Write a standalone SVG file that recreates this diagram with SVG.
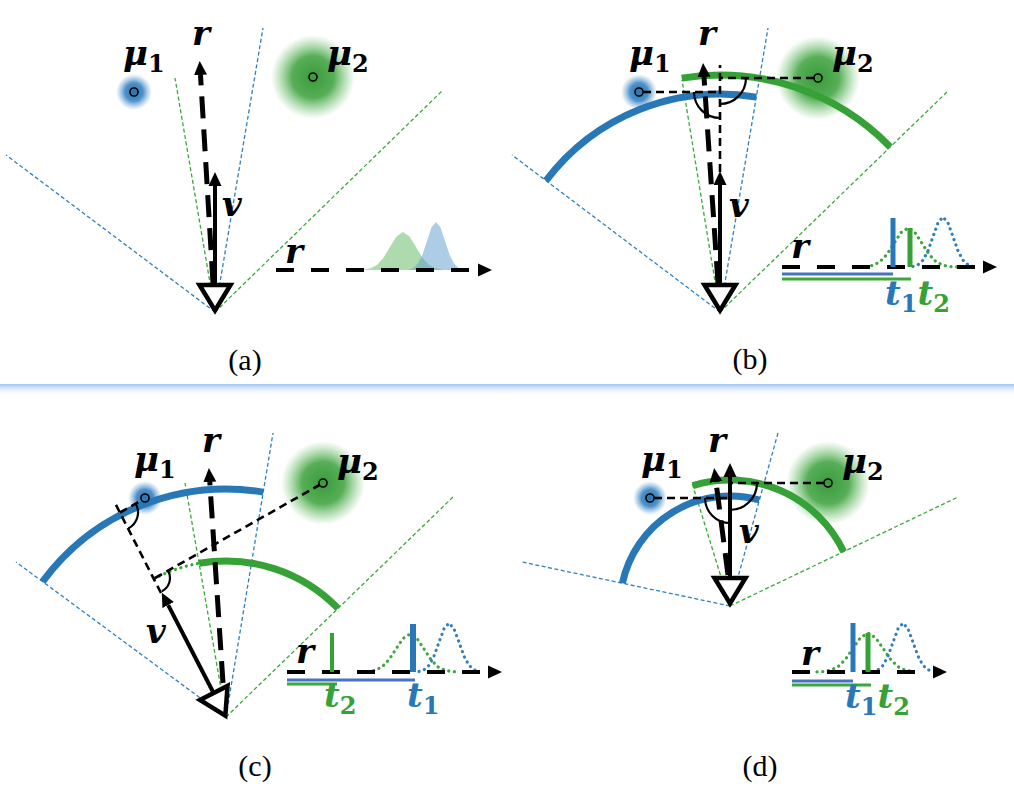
<svg xmlns="http://www.w3.org/2000/svg" width="1014" height="799" viewBox="0 0 1014 799">
<style>
.fb{fill:none;stroke:#2f7fc1;stroke-width:1.3;stroke-dasharray:4 2.5}
.fg{fill:none;stroke:#3aa83a;stroke-width:1.3;stroke-dasharray:4 2.5}
.ab{fill:none;stroke:#2878b8;stroke-width:7}
.ag{fill:none;stroke:#36a136;stroke-width:7}
.rr{fill:none;stroke:#000;stroke-width:5;stroke-dasharray:22 11}
.vv{fill:none;stroke:#000;stroke-width:4}
.pj{fill:none;stroke:#000;stroke-width:2.6;stroke-dasharray:8 5}
.ang{fill:none;stroke:#000;stroke-width:2.2}
.ax{fill:none;stroke:#000;stroke-width:4;stroke-dasharray:18 17}
.ub{stroke:#4472c4;stroke-width:3}
.ug{stroke:#3aa83a;stroke-width:3}
.bb{stroke:#2878b8;stroke-width:5}
.bg{stroke:#36a136;stroke-width:5}
.db{fill:none;stroke:#2f7fc1;stroke-width:3.2;stroke-dasharray:0.1 5.6;stroke-linecap:round;stroke-linejoin:round}
.dg{fill:none;stroke:#3aa83a;stroke-width:3.2;stroke-dasharray:0.1 5.6;stroke-linecap:round;stroke-linejoin:round}
.pt{fill:none;stroke:#000;stroke-width:1.6}
.cam{fill:#fff;stroke:#000;stroke-width:4.5;stroke-linejoin:miter}
.m{font-family:"DejaVu Serif",serif;font-style:italic;font-weight:bold;font-size:34px;fill:#000}
.s{font-family:"DejaVu Serif",serif;font-style:normal;font-weight:bold;font-size:24px}
.cap{font-family:"Liberation Serif",serif;font-size:30px;text-anchor:middle;fill:#000}
.tb{fill:#2878b8}
.tg{fill:#36a136}
</style>
<defs>
<marker id="ah" viewBox="0 -7 14 14" markerWidth="14" markerHeight="14" refX="0" refY="0" orient="auto" markerUnits="userSpaceOnUse">
<path d="M0,-6.5 L14,0 L0,6.5 Z" fill="#000"/>
</marker>
<radialGradient id="gblue" cx="0.5" cy="0.5" r="0.5">
<stop offset="0" stop-color="#2474b4" stop-opacity="1"/>
<stop offset="0.5" stop-color="#3a85c2" stop-opacity="0.9"/>
<stop offset="1" stop-color="#6aa4d6" stop-opacity="0"/>
</radialGradient>
<radialGradient id="ggreen" cx="0.5" cy="0.5" r="0.5">
<stop offset="0" stop-color="#3a9a3a" stop-opacity="1"/>
<stop offset="0.5" stop-color="#44a544" stop-opacity="0.9"/>
<stop offset="1" stop-color="#6cc06c" stop-opacity="0"/>
</radialGradient>
<linearGradient id="sep" x1="0" y1="0" x2="0" y2="1">
<stop offset="0" stop-color="#9ec5f3"/>
<stop offset="1" stop-color="#ffffff" stop-opacity="0"/>
</linearGradient>
<path id="tri" d="M-15.5,-27 L15.5,-27 L0,-1.5 Z"/>
</defs>
<rect width="1014" height="799" fill="#fff"/>
<rect x="0" y="384" width="1014" height="12" fill="url(#sep)"/>

<!-- Panel (a) -->
<g id="panel-a">
<g id="a-mu1"><circle cx="134" cy="92" r="18" fill="url(#gblue)"/><circle class="pt" cx="134" cy="92" r="4"/>
<text class="m" x="123" y="65">μ<tspan class="s" dy="7">1</tspan></text></g>
<g id="a-mu2"><circle cx="313" cy="77" r="42" fill="url(#ggreen)"/><circle class="pt" cx="313" cy="77" r="4"/>
<text class="m" x="327" y="65">μ<tspan class="s" dy="7">2</tspan></text></g>
<g id="a-connectors">
<path class="fb" d="M215,312 L6,155 M215,312 L263,28"/>
<path class="fg" d="M215,312 L175,78 M215,312 L442,91"/>
<path class="rr" d="M213,283 L200.5,75" marker-end="url(#ah)"/>
<path class="vv" d="M215,283 L215,186" marker-end="url(#ah)"/>
</g>
<g id="a-camera"><use href="#tri" class="cam" transform="translate(215,312)"/></g>
<text class="m" x="192" y="45">r</text>
<text class="m" x="222" y="216">v</text>
<g id="a-inset">
<path d="M364,270 L364,269.6 L370.5,268.3 L377,264.9 L383.5,257.7 L390,247 L396.5,236.5 L403,232 L409.5,236.5 L416,247 L422.5,257.7 L429,264.9 L435.5,268.3 L442,269.6 L442,270 Z" fill="#5cb85c" fill-opacity="0.5"/>
<path d="M409,270 L409,269.5 L413.5,267.9 L418,263.5 L422.5,254.4 L427,240.9 L431.5,227.6 L436,222 L440.5,227.6 L445,240.9 L449.5,254.4 L454,263.5 L458.5,267.9 L463,269.5 L463,270 Z" fill="#5b9bd0" fill-opacity="0.5"/>
<path class="ax" d="M276,270 L478,270" marker-end="url(#ah)"/>
<text class="m" x="285" y="263">r</text>
</g>
<text class="cap" x="245" y="370">(a)</text>
</g>

<!-- Panel (b) -->
<g id="panel-b">
<g id="b-mu1"><circle cx="639" cy="92" r="18" fill="url(#gblue)"/></g>
<g id="b-mu2"><circle cx="818" cy="78" r="42" fill="url(#ggreen)"/></g>
<g id="b-connectors">
<path class="fb" d="M720,312 L512,155 M720,312 L768,28"/>
<path class="fg" d="M720,312 L682,80 M720,312 L947,92"/>
<path class="ab" d="M546,180.7 A218,218 0 0 1 756.3,97.1"/>
<path class="ag" d="M681.7,78.1 A237,237 0 0 1 890.2,147"/>
<path class="pj" d="M643,92 L720,92 M814,78 L720,78 M720,172 L720,65"/>
<path class="ang" d="M694,92 A26,26 0 0 0 720,118 M746,78 A26,26 0 0 1 720,104"/>
<path class="rr" d="M718,283 L704,77" marker-end="url(#ah)"/>
<path class="vv" d="M720,283 L720,185" marker-end="url(#ah)"/>
</g>
<circle class="pt" cx="639" cy="92" r="4"/><circle class="pt" cx="818" cy="78" r="4"/>
<text class="m" x="629" y="65">μ<tspan class="s" dy="7">1</tspan></text>
<text class="m" x="832" y="65">μ<tspan class="s" dy="7">2</tspan></text>
<g id="b-camera"><use href="#tri" class="cam" transform="translate(720,312)"/></g>
<text class="m" x="698" y="45">r</text>
<text class="m" x="729" y="217">v</text>
<g id="b-inset">
<path class="dg" d="M866,266.6 L873,265.3 L880,261.7 L887,254.3 L894,243.3 L901,232.6 L908,228 L915,232.6 L922,243.3 L929,254.3 L936,261.7 L943,265.3 L950,266.6 L957,266.9 L964,267"/>
<path class="db" d="M913,266.4 L918,264.8 L923,260.2 L928,250.8 L933,236.7 L938,222.9 L943,217 L948,222.9 L953,236.7 L958,250.8 L963,260.2 L968,264.8 L973,266.4"/>
<path class="ax" d="M782,267 L983,267" marker-end="url(#ah)"/>
<line class="bb" x1="893" y1="218" x2="893" y2="267"/>
<line class="bg" x1="910" y1="228" x2="910" y2="267"/>
<line class="ub" x1="782" y1="274" x2="893" y2="274"/>
<line class="ug" x1="782" y1="279" x2="911" y2="279"/>
<text class="m" x="791" y="258">r</text>
<text class="m" x="885" y="305"><tspan class="tb">t</tspan><tspan class="s tb" dy="7">1</tspan><tspan class="tg" dy="-7">t</tspan><tspan class="s tg" dy="7">2</tspan></text>
</g>
<text class="cap" x="750" y="369">(b)</text>
</g>

<!-- Panel (c) -->
<g id="panel-c">
<g id="c-mu1"><circle cx="145" cy="498" r="17" fill="url(#gblue)"/></g>
<g id="c-mu2"><circle cx="323" cy="483" r="42" fill="url(#ggreen)"/></g>
<g id="c-connectors">
<path class="fb" d="M226,717 L16,562 M226,717 L273,433"/>
<path class="fg" d="M226,717 L185,483 M226,717 L453,497"/>
<path class="ab" d="M42.6,581.6 A228,228 0 0 1 263.2,492.1"/>
<path class="ag" d="M199,563.3 A156,156 0 0 1 338,608.4"/>
<path class="dg" d="M154.4,578.5 A156,156 0 0 1 199,563.3"/>
<path class="pj" d="M161,593 L115,503 M120,512.5 L141,500.5 M155,578 L319.5,485"/>
<path class="ang" d="M135.6,503.5 A18,18 0 0 1 128.3,528.5 M168,570.6 A15,15 0 0 1 161.9,591.3"/>
<path class="rr" d="M223,683 L209.8,482" marker-end="url(#ah)"/>
<path class="vv" d="M213.6,693 L168.2,605.1" marker-end="url(#ah)"/>
</g>
<circle class="pt" cx="145" cy="498" r="4"/><circle class="pt" cx="323" cy="483" r="4"/>
<text class="m" x="134" y="471">μ<tspan class="s" dy="7">1</tspan></text>
<text class="m" x="337" y="473">μ<tspan class="s" dy="7">2</tspan></text>
<g id="c-camera"><use href="#tri" class="cam" transform="translate(226,717) rotate(-27)"/></g>
<text class="m" x="202" y="452">r</text>
<text class="m" x="146" y="643">v</text>
<g id="c-inset">
<path class="dg" d="M368,671.6 L375,670.3 L382,666.9 L389,659.7 L396,649 L403,638.5 L410,634 L417,638.5 L424,649 L431,659.7 L438,666.9 L445,670.3 L452,671.6 L459,671.9"/>
<path class="db" d="M419,671.5 L424,669.8 L429,665.4 L434,656.1 L439,642.3 L444,628.8 L449,623 L454,628.8 L459,642.3 L464,656.1 L469,665.4 L474,669.8 L479,671.5"/>
<path class="ax" d="M287,672 L488,672" marker-end="url(#ah)"/>
<line class="bg" x1="332" y1="633" x2="332" y2="672" style="stroke-width:4"/>
<line class="bb" x1="413" y1="624" x2="413" y2="672" style="stroke-width:6"/>
<line class="ub" x1="287" y1="680" x2="415" y2="680"/>
<line class="ug" x1="287" y1="684" x2="337" y2="684"/>
<text class="m" x="296" y="663">r</text>
<text class="m tg" x="324" y="707">t<tspan class="s" dy="7">2</tspan></text>
<text class="m tb" x="407" y="707">t<tspan class="s" dy="7">1</tspan></text>
</g>
<text class="cap" x="255" y="776">(c)</text>
</g>

<!-- Panel (d) -->
<g id="panel-d">
<g id="d-mu1"><circle cx="650" cy="498" r="17" fill="url(#gblue)"/></g>
<g id="d-mu2"><circle cx="828" cy="483" r="42" fill="url(#ggreen)"/></g>
<g id="d-connectors">
<path class="fb" d="M730,606 L522,562 M730,606 L778,433"/>
<path class="fg" d="M730,606 L692,483 M730,606 L958,497"/>
<path class="ab" d="M622.4,583.2 A110,110 0 0 1 759.4,500"/>
<path class="ag" d="M692.8,485.6 A126,126 0 0 1 843.7,551.7"/>
<path class="pj" d="M654,498 L730,498 M824,483 L730,483"/>
<path class="ang" d="M705,498 A25,25 0 0 0 730,523 M757,483 A27,27 0 0 1 730,510"/>
<path class="rr" d="M728,575 L716,482" marker-end="url(#ah)"/>
<path class="vv" d="M730,576 L730,477" marker-end="url(#ah)"/>
</g>
<circle class="pt" cx="650" cy="498" r="4"/><circle class="pt" cx="828" cy="483" r="4"/>
<text class="m" x="641" y="471">μ<tspan class="s" dy="7">1</tspan></text>
<text class="m" x="842" y="473">μ<tspan class="s" dy="7">2</tspan></text>
<g id="d-camera"><use href="#tri" class="cam" transform="translate(730,605)"/></g>
<text class="m" x="708" y="452">r</text>
<text class="m" x="739" y="543">v</text>
<g id="d-inset">
<path class="dg" d="M817,671.9 L823,671.6 L830.5,670.3 L838,666.7 L845.5,659.3 L853,648.3 L860.5,637.6 L868,633 L875.5,637.6 L883,648.3 L890.5,659.3 L898,666.7 L905.5,670.3 L913,671.6"/>
<path class="db" d="M873,671.5 L878,669.8 L883,665.4 L888,656.1 L893,642.3 L898,628.8 L903,623 L908,628.8 L913,642.3 L918,656.1 L923,665.4 L928,669.8 L933,671.5"/>
<path class="ax" d="M792,672 L915,672"/>
<path d="M933,665.5 L947,672 L933,678.5 Z" fill="#000"/>
<line class="bb" x1="853" y1="623" x2="853" y2="672"/>
<line class="bg" x1="868" y1="633" x2="868" y2="672"/>
<line class="ub" x1="792" y1="681" x2="853" y2="681"/>
<line class="ug" x1="792" y1="685" x2="871" y2="685"/>
<text class="m" x="801" y="665">r</text>
<text class="m" x="845" y="708"><tspan class="tb">t</tspan><tspan class="s tb" dy="7">1</tspan><tspan class="tg" dy="-7">t</tspan><tspan class="s tg" dy="7">2</tspan></text>
</g>
<text class="cap" x="760" y="776">(d)</text>
</g>
</svg>
